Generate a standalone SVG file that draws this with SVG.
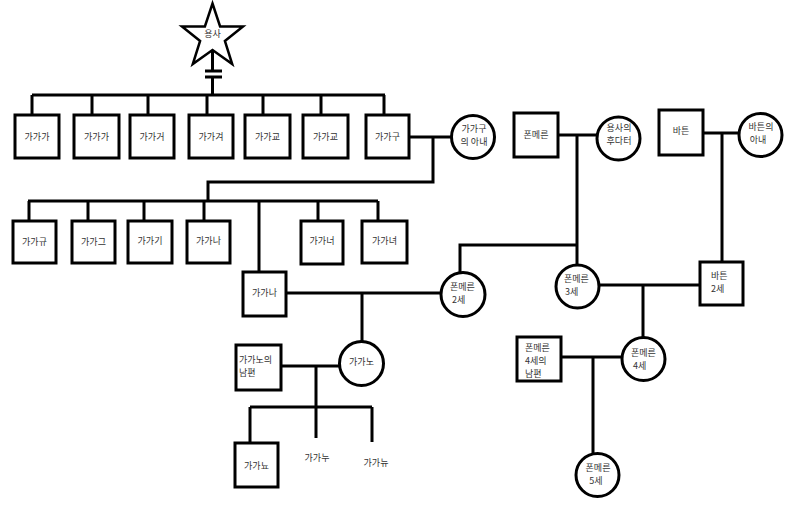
<svg xmlns="http://www.w3.org/2000/svg" width="800" height="510" viewBox="0 0 800 510">
<style>
.b{fill:#fff;stroke:#000;stroke-width:3}
.c{fill:#fff;stroke:#000;stroke-width:3}
.l{fill:none;stroke:#000;stroke-width:3}
text{font-family:"Noto Sans CJK KR","Noto Sans",sans-serif;font-size:9px;fill:#333}
.m{text-anchor:middle}
</style>
<rect width="800" height="510" fill="#fff"/>
<g id="connectors">
<path class="l" d="M212.5,50V71M205,71H222M205,77H222M212.5,77V95"/>
<path class="l" d="M32,95H385M32,95V115M92,95V115M148,95V115M207,95V115M263,95V115M321,95V115M384,95V115"/>
<path class="l" d="M409,137H452M433,137V182H208V201"/>
<path class="l" d="M28,201H378M29,201V221M88,201V221M144,201V221M204,201V221M259,201V272M318,201V221M378,201V221"/>
<path class="l" d="M286,293H441M362,293V342"/>
<path class="l" d="M558,135H597M577,135V265M577,245H460V273"/>
<path class="l" d="M703,133H739M722,133V262"/>
<path class="l" d="M599,285H700M643,285V338"/>
<path class="l" d="M281,366H339M316,366V407M250,407H372M250,407V443M316,407V438M372,407V442"/>
<path class="l" d="M561,357H622M593,357V454"/>
</g>
<g id="hero"><polygon points="212.5,3.5 220.1,26.5 243,26.6 224.9,41 232.2,64.1 212.5,50 192.8,64.1 200.1,41 182,26.6 204.9,26.5" fill="#fff" stroke="#000" stroke-width="2.5"/><text class="m" x="212.5" y="37">용사</text></g>
<g id="n1"><rect class="b" x="15" y="115" width="44" height="43"/><text class="m" x="37" y="140">가가가</text></g>
<g id="n2"><rect class="b" x="74" y="115" width="45" height="43"/><text class="m" x="96.5" y="140">가가가</text></g>
<g id="n3"><rect class="b" x="130" y="115" width="44" height="43"/><text class="m" x="152" y="140">가가거</text></g>
<g id="n4"><rect class="b" x="189" y="115" width="44" height="43"/><text class="m" x="211" y="140">가가겨</text></g>
<g id="n5"><rect class="b" x="245" y="115" width="45" height="43"/><text class="m" x="267.5" y="140">가가교</text></g>
<g id="n6"><rect class="b" x="303" y="115" width="45" height="43"/><text class="m" x="325.5" y="140">가가교</text></g>
<g id="n7"><rect class="b" x="366" y="115" width="43" height="43"/><text class="m" x="387.5" y="140">가가구</text></g>
<g id="n7w"><circle class="c" cx="473" cy="137" r="21.5"/><text class="m" x="474" y="132">가가구</text><text class="m" x="474" y="145">의 아내</text></g>
<g id="r1"><rect class="b" x="13" y="221" width="43" height="42"/><text class="m" x="34.5" y="245">가가규</text></g>
<g id="r2"><rect class="b" x="72" y="221" width="43" height="42"/><text class="m" x="93.5" y="245">가가그</text></g>
<g id="r3"><rect class="b" x="128" y="221" width="44" height="42"/><text class="m" x="150" y="244">가가기</text></g>
<g id="r4"><rect class="b" x="187" y="221" width="43" height="42"/><text class="m" x="208.5" y="244">가가나</text></g>
<g id="r5"><rect class="b" x="301" y="221" width="42" height="43"/><text class="m" x="322" y="244">가가너</text></g>
<g id="r6"><rect class="b" x="362" y="221" width="45" height="42"/><text class="m" x="384.5" y="244">가가녀</text></g>
<g id="gn"><rect class="b" x="243" y="272" width="43" height="44"/><text class="m" x="264.5" y="296">가가나</text></g>
<g id="pm2"><circle class="c" cx="463" cy="294.5" r="22"/><text x="450" y="290">폰메른</text><text x="452" y="303">2세</text></g>
<g id="pm"><rect class="b" x="514" y="113" width="44" height="44"/><text class="m" x="536" y="138">폰메른</text></g>
<g id="hd"><circle class="c" cx="618.5" cy="138.5" r="21.5"/><text class="m" x="619" y="131">용사의</text><text class="m" x="619" y="144">후다터</text></g>
<g id="bt"><rect class="b" x="659" y="110" width="44" height="45"/><text class="m" x="681" y="134">바튼</text></g>
<g id="btw"><circle class="c" cx="760.5" cy="135" r="21.5"/><text class="m" x="761" y="130">바튼의</text><text class="m" x="758" y="143">아내</text></g>
<g id="pm3"><circle class="c" cx="577.5" cy="286.5" r="21.5"/><text x="564" y="282">폰메른</text><text x="565" y="295">3세</text></g>
<g id="bt2"><rect class="b" x="700" y="262" width="43" height="43"/><text x="711" y="279">바튼</text><text x="711" y="292">2세</text></g>
<g id="gnh"><rect class="b" x="236" y="345" width="45" height="45"/><text x="239" y="363">가가노의</text><text x="239" y="376">남편</text></g>
<g id="gno"><circle class="c" cx="361.5" cy="363.5" r="22"/><text class="m" x="361.5" y="365">가가노</text></g>
<g id="gny"><rect class="b" x="235" y="443" width="43" height="44"/><text class="m" x="256.5" y="469">가가뇨</text></g>
<g id="gnu"><text class="m" x="317" y="461">가가누</text></g>
<g id="gnyu"><text class="m" x="376" y="466">가가뉴</text></g>
<g id="pm4h"><rect class="b" x="517" y="337" width="44" height="44"/><text x="525" y="351">폰메른</text><text x="525" y="364">4세의</text><text x="525" y="377">남편</text></g>
<g id="pm4"><circle class="c" cx="643.5" cy="359" r="21.5"/><text x="631" y="356">폰메른</text><text x="633" y="369">4세</text></g>
<g id="pm5"><circle class="c" cx="597.5" cy="475" r="21.5"/><text class="m" x="598" y="471">폰메른</text><text class="m" x="596" y="484">5세</text></g>
</svg>
